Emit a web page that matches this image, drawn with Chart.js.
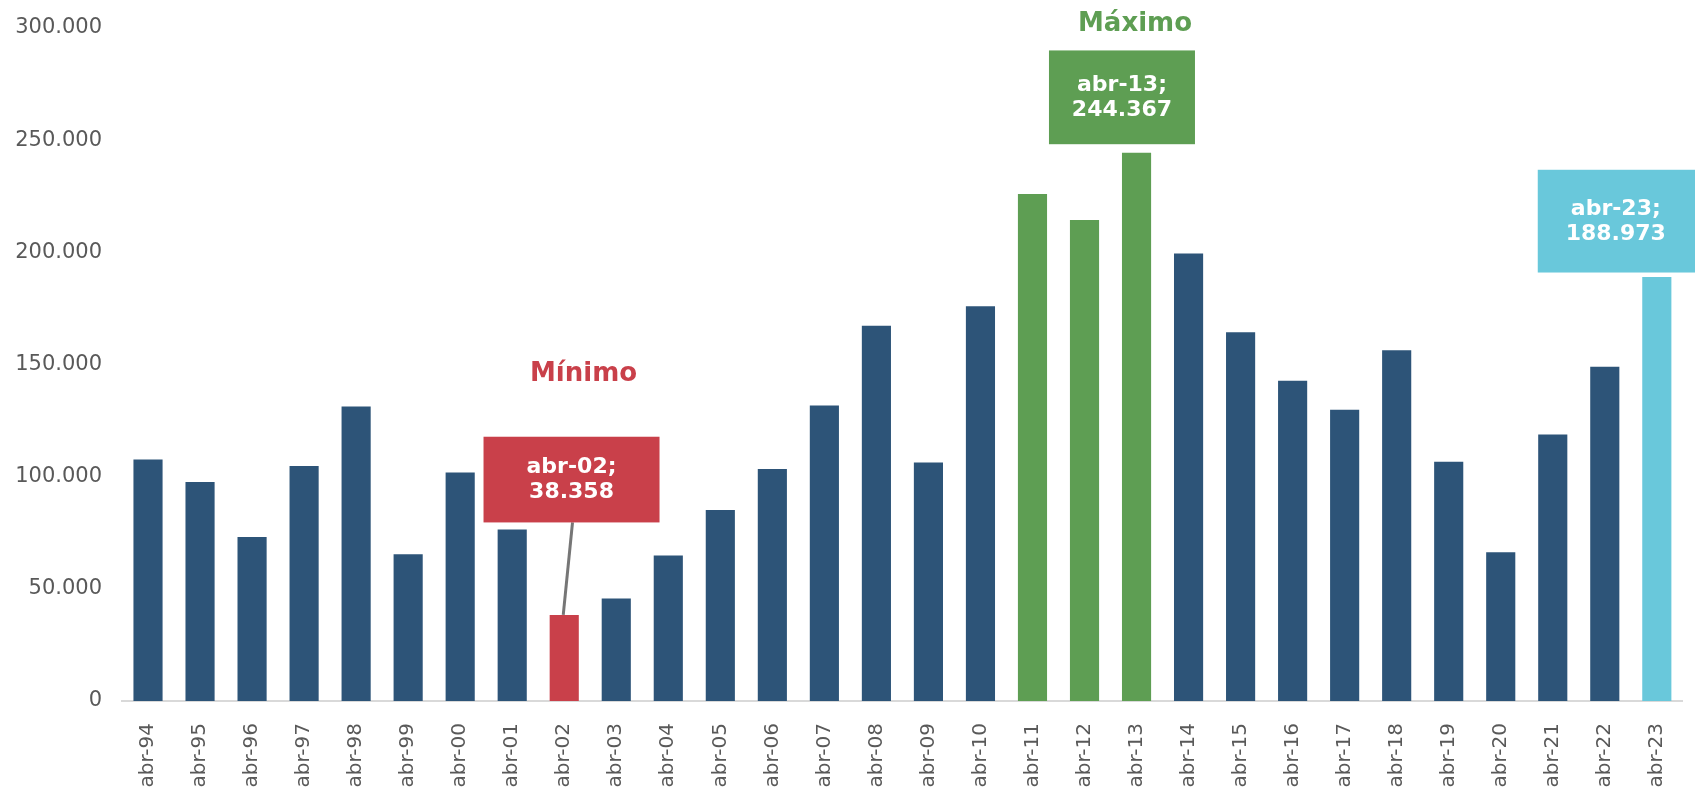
<!DOCTYPE html>
<html>
<head>
<meta charset="utf-8">
<script src="https://cdn.jsdelivr.net/npm/chart.js@4"></script>
<style>
  html, body { margin: 0; padding: 0; background: #fff; }
  #wrap { width: 1695px; height: 793px; }
</style>
</head>
<body>
<div id="wrap"><canvas id="chart"></canvas></div>
<script>
// --- Data ---
const labels = ['abr-94','abr-95','abr-96','abr-97','abr-98','abr-99','abr-00','abr-01','abr-02','abr-03',
    'abr-04','abr-05','abr-06','abr-07','abr-08','abr-09','abr-10','abr-11','abr-12','abr-13',
    'abr-14','abr-15','abr-16','abr-17','abr-18','abr-19','abr-20','abr-21','abr-22','abr-23'];
const values = [107700, 97600, 73100, 104800, 131300, 65400, 101900, 76400, 38358, 45700,
    64900, 85100, 103400, 131700, 167300, 106300, 176000, 226000, 214400, 244367,
    199500, 164400, 142800, 129800, 156300, 106700, 66300, 118800, 149000, 188973];
const yTicks = [0, 50000, 100000, 150000, 200000, 250000, 300000];

const BLUE = '#2d5478', RED = '#c9404a', GREEN = '#5e9e53', CYAN = '#69c8db';
const greenBars = ['abr-11', 'abr-12', 'abr-13'];

const barColors = labels.map(l => {
    if (l === 'abr-02') return RED;
    if (greenBars.includes(l)) return GREEN;
    if (l === 'abr-23') return CYAN;
    return BLUE;
});

const fmt = v => Math.round(v).toString().replace(/\B(?=(\d{3})+(?!\d))/g, '.');

// callouts: box in value space, relative to the bar
const callouts = [
    { label: 'abr-02', dx: 0.14, top: 117800, bottom: 79600, width: 176, color: RED,
      title: 'Mínimo', titleY: 145800, leader: true },
    { label: 'abr-13', dx: -0.28, top: 290000, bottom: 248200, width: 146, color: GREEN,
      title: 'Máximo', titleY: 301500, titleDx: 0.02 },
    { label: 'abr-23', dx: -0.77, top: 236800, bottom: 191000, width: 158, color: CYAN, textDx: 0.75 }
];

const calloutPlugin = {
    id: 'callouts',
    afterDatasetsDraw(chart) {
        const { ctx, scales: { x, y } } = chart;
        ctx.save();
        callouts.forEach(c => {
            const i = labels.indexOf(c.label);
            const v = values[i];
            const cx = x.getPixelForValue(i + c.dx);
            const top = y.getPixelForValue(c.top);
            const bot = y.getPixelForValue(c.bottom);
            const left = cx - c.width / 2;

            if (c.leader) {
                ctx.strokeStyle = '#767676';
                ctx.lineWidth = 3;
                ctx.beginPath();
                ctx.moveTo(cx + 1, bot);
                ctx.lineTo(x.getPixelForValue(i) - 1, y.getPixelForValue(v));
                ctx.stroke();
            }

            ctx.fillStyle = c.color;
            ctx.fillRect(left, top, c.width, bot - top);

            const tx = c.textDx ? x.getPixelForValue(i - 0.77 + c.textDx) - 40 : cx;
            ctx.fillStyle = '#ffffff';
            ctx.font = 'bold 22px "DejaVu Sans"';
            ctx.textAlign = 'center';
            ctx.textBaseline = 'middle';
            const mid = (top + bot) / 2;
            ctx.fillText(c.label + ';', tx, mid - 12);
            ctx.fillText(fmt(v), tx, mid + 13);

            if (c.title) {
                ctx.fillStyle = c.color;
                ctx.font = 'bold 26px "DejaVu Sans"';
                ctx.fillText(c.title, x.getPixelForValue(i + c.dx + (c.titleDx || 0)) + 12, y.getPixelForValue(c.titleY));
            }
        });
        ctx.restore();
    }
};

new Chart(document.getElementById('chart'), {
    type: 'bar',
    data: {
        labels: labels,
        datasets: [{
            data: values,
            backgroundColor: barColors,
            barPercentage: 0.56,
            categoryPercentage: 1.0
        }]
    },
    options: {
        responsive: true,
        maintainAspectRatio: false,
        animation: false,
        layout: { padding: { top: 28, right: 11, left: 0, bottom: 0 } },
        plugins: {
            legend: { display: false },
            tooltip: { enabled: false }
        },
        scales: {
            x: {
                grid: { display: false },
                border: { display: true, color: '#d9d9d9', width: 2 },
                ticks: {
                    color: '#595959',
                    font: { family: 'DejaVu Sans', size: 20 },
                    minRotation: 90,
                    maxRotation: 90,
                    autoSkip: false,
                    padding: 14
                },
                afterFit(scale) { scale.height = 92; }
            },
            y: {
                min: 0,
                max: 300000,
                grid: { display: false },
                border: { display: false },
                afterBuildTicks(scale) { scale.ticks = yTicks.map(v => ({ value: v })); },
                ticks: {
                    color: '#595959',
                    font: { family: 'DejaVu Sans', size: 21 },
                    padding: 12,
                    callback: v => fmt(v)
                },
                afterFit(scale) { scale.width = 122; }
            }
        }
    },
    plugins: [calloutPlugin]
});
</script>
</body>
</html>
